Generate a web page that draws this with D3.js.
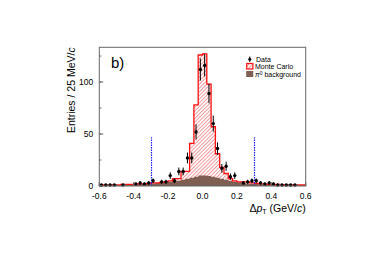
<!DOCTYPE html>
<html><head><meta charset="utf-8">
<script src="https://cdn.jsdelivr.net/npm/d3@7"></script>
<style>body{margin:0;background:#fff}svg{display:block}text{font-family:"Liberation Sans",Arial,Helvetica,sans-serif}</style>
</head><body><svg id="c" width="374" height="264"></svg>
<script>
// 48 bins of 25 MeV/c from -0.6 to 0.6 GeV/c
const binEdges0 = -0.6, binWidth = 0.025;
const dataCounts = [1,1,1,1,0,1,0,0,2,3,2,3,5,0,4,4,10,5,14,14,27,27,52,112,116,89,60,36,17,19,9,10,0,3,4,5,5,3,2,3,2,1,1,1,1,1,0,0];
const mcCounts   = [1,1,1,1,1,1.5,1.5,1.5,2,2,2,2.5,3,3,3.5,4,5,7,7,14,14,41,78,126,127,98,57,31,18,12,7,5,4,4,4,3,2.5,2,2,1.5,1.5,1.5,1,1,1,1,1,1];
const bgCounts   = [1,1,1,1,1,1.5,1.5,1.5,1.5,2,2,2,2.5,3,3,3.5,4,4.5,5,6,7,8,9,10,10,9.5,9,8,7,6,5,4,3.5,3,2.5,2,2,1.5,1.5,1.5,1,1,1,1,1,1,1,1];
const xTicks = [-0.6,-0.4,-0.2,0.0,0.2,0.4,0.6];
const xTickLabels = ["-0.6","-0.4","-0.2","0.0","0.2","0.4","0.6"];
const yTicks = [0,50,100];
const yTickLabels = ["0","50","100"];
const cutLines = [-0.3, 0.3];
const cutHeight = 47;

const svg = d3.select("#c");
const L=99.3, R=305.7, T=47.3, B=186;
const x = d3.scaleLinear().domain([-0.6,0.6]).range([L,R]);
const y = d3.scaleLinear().domain([0,133.4]).range([B,T]);

const defs = svg.append("defs");
const pat = defs.append("pattern").attr("id","hatch").attr("patternUnits","userSpaceOnUse")
  .attr("width",2.6).attr("height",2.6).attr("patternTransform","rotate(45)");
pat.append("rect").attr("width",2.6).attr("height",2.6).attr("fill","#fff");
pat.append("line").attr("x1",0.5).attr("y1",0).attr("x2",0.5).attr("y2",2.6).attr("stroke","#f06262").attr("stroke-width",0.65);

const edges = d3.range(49).map(i => binEdges0 + i*binWidth);
function stepPts(vals){ const p = vals.map((v,i)=>[edges[i],v]); p.push([edges[48], vals[47]]); return p; }

const area = d3.area().x(d=>x(d[0])).y0(y(0)).y1(d=>y(d[1])).curve(d3.curveStepAfter);
const line = d3.line().x(d=>x(d[0])).y(d=>y(d[1])).curve(d3.curveStepAfter);

svg.append("path").attr("d",area(stepPts(mcCounts))).attr("fill","url(#hatch)");
svg.append("path").attr("d",area(stepPts(bgCounts))).attr("fill","#7f5f52");
svg.append("path").attr("d",line(stepPts(mcCounts))).attr("fill","none").attr("stroke","#ff1010").attr("stroke-width",1.3);

// cut lines
svg.selectAll("line.cut").data(cutLines).join("line").attr("class","cut")
  .attr("x1",d=>Math.round(x(d))+0.5).attr("x2",d=>Math.round(x(d))+0.5).attr("y1",y(0)).attr("y2",y(cutHeight))
  .attr("stroke","#1a1aff").attr("stroke-width",1.2).attr("stroke-dasharray","1.5,1");

// data
const pts = dataCounts.map((v,i)=>({c: binEdges0 + (i+0.5)*binWidth, v})).filter(d=>d.v>0);
svg.selectAll("line.err").data(pts).join("line").attr("class","err")
  .attr("x1",d=>x(d.c)).attr("x2",d=>x(d.c)).attr("y1",d=>y(d.v-Math.sqrt(d.v))).attr("y2",d=>y(d.v+Math.sqrt(d.v)))
  .attr("stroke","#000").attr("stroke-width",1);
svg.selectAll("circle.pt").data(pts).join("circle").attr("class","pt")
  .attr("cx",d=>x(d.c)).attr("cy",d=>y(d.v)).attr("r",1.7).attr("fill","#000");

// frame
const fc="#666";
svg.append("rect").attr("x",L).attr("y",T).attr("width",R-L).attr("height",B-T).attr("fill","none").attr("stroke",fc).attr("stroke-width",1);

// x ticks
const xMinor = d3.range(-0.6,0.6001,0.05);
svg.selectAll("line.xm").data(xMinor).join("line").attr("class","xm")
  .attr("x1",d=>x(d)).attr("x2",d=>x(d)).attr("y1",B).attr("y2",B-2).attr("stroke",fc);
svg.selectAll("line.xM").data(xTicks).join("line").attr("class","xM")
  .attr("x1",d=>x(d)).attr("x2",d=>x(d)).attr("y1",B).attr("y2",B-4).attr("stroke",fc);
svg.selectAll("text.xl").data(xTicks).join("text").attr("class","xl")
  .attr("x",d=>x(d)).attr("y",199).attr("text-anchor","middle").attr("font-size",8.5)
  .text((d,i)=>xTickLabels[i]);

// y ticks
const yMinor = d3.range(0,133,25);
svg.selectAll("line.ym").data(yMinor).join("line").attr("class","ym")
  .attr("x1",L).attr("x2",L+2).attr("y1",d=>y(d)).attr("y2",d=>y(d)).attr("stroke",fc);
svg.selectAll("line.yM").data(yTicks).join("line").attr("class","yM")
  .attr("x1",L).attr("x2",L+4).attr("y1",d=>y(d)).attr("y2",d=>y(d)).attr("stroke",fc);
svg.selectAll("text.yl").data(yTicks).join("text").attr("class","yl")
  .attr("x",L-6).attr("y",d=>y(d)+3).attr("text-anchor","end").attr("font-size",8.5)
  .text((d,i)=>yTickLabels[i]);

// axis titles
const yt = svg.append("text").attr("transform",`translate(75,${T}) rotate(-90)`).attr("text-anchor","end").attr("font-size",10.5);
yt.append("tspan").text("Entries / 25 MeV/");
yt.append("tspan").attr("font-style","italic").text("c");

const xt = svg.append("text").attr("x",R).attr("y",212).attr("text-anchor","end").attr("font-size",10.5);
xt.append("tspan").text("Δ");
xt.append("tspan").attr("font-style","italic").text("p");
xt.append("tspan").attr("font-size",7).attr("dy",2).text("T");
xt.append("tspan").attr("dy",-2).text(" (GeV/");
xt.append("tspan").attr("font-style","italic").text("c");
xt.append("tspan").text(")");

svg.append("text").attr("x",111).attr("y",68).attr("font-size",15).text("b)");

// legend
const lg = svg.append("g");
lg.append("line").attr("x1",249.8).attr("x2",249.8).attr("y1",56.5).attr("y2",62).attr("stroke","#000");
lg.append("circle").attr("cx",249.8).attr("cy",59.3).attr("r",1.5).attr("fill","#000");
lg.append("text").attr("x",256).attr("y",61.5).attr("font-size",7).text("Data");
lg.append("rect").attr("x",246.7).attr("y",63.5).attr("width",6.2).attr("height",5.5).attr("fill","url(#hatch)").attr("stroke","#ff1010").attr("stroke-width",1.2);
lg.append("text").attr("x",255).attr("y",69).attr("font-size",7).text("Monte Carlo");
lg.append("rect").attr("x",246.2).attr("y",71).attr("width",7).attr("height",6).attr("fill","#7f5f52");
const bt = lg.append("text").attr("x",255).attr("y",77).attr("font-size",7);
bt.append("tspan").attr("font-style","italic").text("π");
bt.append("tspan").attr("font-size",5).attr("dy",-2.5).text("0");
bt.append("tspan").attr("dy",2.5).text(" background");
</script></body></html>
